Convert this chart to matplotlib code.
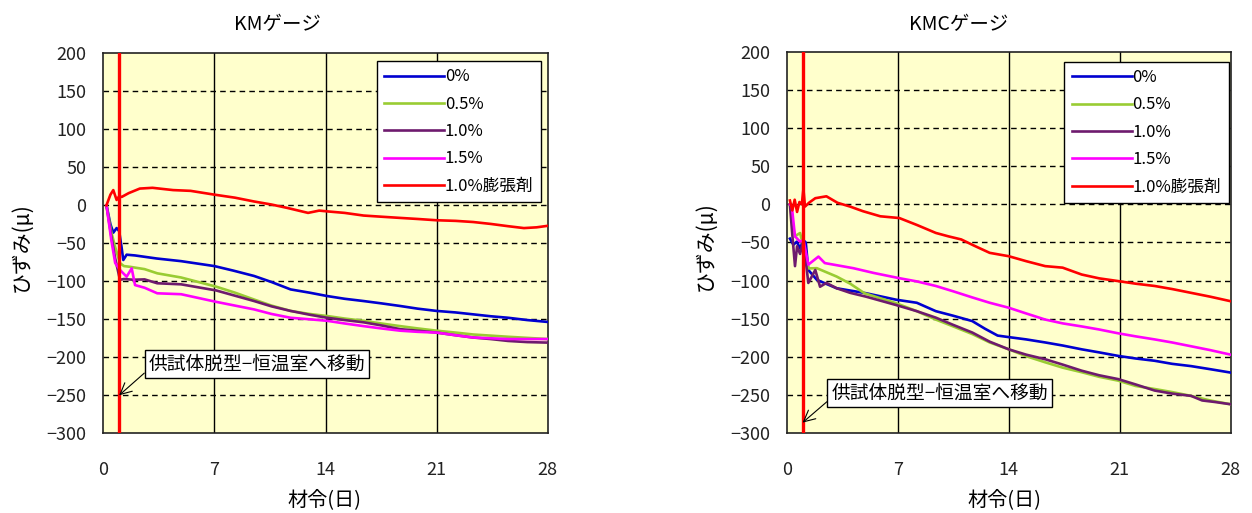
import matplotlib
matplotlib.use("Agg")
import matplotlib.pyplot as plt

plt.rcParams['font.family'] = ['Noto Sans CJK JP', 'DejaVu Sans']

# ---- KMゲージ ----
km_0_x = [0.2, 0.45, 0.63, 0.84, 1.0, 1.15, 1.26, 1.47, 2.0, 3.36, 4.9, 7.0, 8.2, 9.5, 10.6, 11.8, 13.0, 14.1,
          15.2, 16.4, 17.5, 18.7, 19.8, 21.0, 22.2, 23.3, 24.4, 25.5, 26.7, 28.0]
km_0_y = [0, -25, -36, -30, -34, -55, -72, -65, -66, -70, -73.5, -80, -86, -93, -101, -110.7, -115, -119.4,
          -123, -126, -129, -132.5, -136, -139, -141, -143.5, -146, -148, -151, -153.5]

km_05_x = [0.2, 0.5, 0.75, 1.05, 1.3, 1.7, 2.6, 3.4, 4.9, 7.1, 8.3, 9.5, 10.6, 11.8, 13.0, 14.1, 15.2, 16.4,
           17.5, 18.7, 19.8, 21.0, 22.2, 23.3, 25.5, 28.0]
km_05_y = [0, -35, -55, -76, -80, -81, -84, -89.5, -95, -107, -115, -124, -132, -139, -143, -145.7, -149, -152,
           -155.5, -159, -162, -165, -167.5, -170, -173, -176]

km_10_x = [0.2, 0.5, 0.74, 1.05, 1.3, 1.9, 2.6, 3.4, 4.9, 7.1, 8.3, 9.5, 10.6, 11.8, 13.0, 14.1, 15.2, 16.4,
           17.5, 18.7, 19.8, 21.0, 22.2, 23.3, 24.4, 25.5, 26.7, 28.0]
km_10_y = [0, -40, -69, -98, -97, -98, -97.5, -102.6, -104, -112, -119, -126, -133, -139, -144, -148, -151, -154,
           -158, -163, -165, -167.5, -171, -174, -176, -178.5, -180, -180.7]

km_15_x = [0.2, 0.5, 0.75, 1.05, 1.47, 1.79, 2.0, 2.6, 3.4, 4.9, 7.1, 8.3, 9.5, 10.6, 11.8, 13.0, 14.1, 15.2,
           16.4, 17.5, 18.7, 19.8, 21.0, 22.2, 23.3, 25.5, 28.0]
km_15_y = [0, -45, -76, -85, -94, -83, -105, -108.5, -115.8, -117, -127, -132, -137, -143, -148, -150, -152, -155.5,
           -159, -162, -165, -166.5, -167.5, -171, -174, -176, -176]

km_exp_x = [0.2, 0.45, 0.63, 0.84, 1.0, 1.16, 1.6, 2.3, 3.1, 4.4, 5.5, 7.0, 8.3, 9.5, 10.6, 11.6, 12.9, 13.6,
            14.1, 15.2, 16.4, 17.5, 18.7, 19.8, 21.0, 22.2, 23.3, 24.4, 25.5, 26.5, 27.3, 28.0]
km_exp_y = [0, 14, 20, 7, 12, 11, 16, 22, 23, 20, 19, 14, 10, 5, 1, -3.5, -10, -7,
            -8, -10, -13.5, -15, -16.6, -18, -19.7, -20.5, -22, -24.5, -27.5, -30, -29, -27]

# ---- KMCゲージ ----
kmc_0_x = [0.2, 0.42, 0.63, 0.84, 1.05, 1.2, 1.36, 1.9, 3.15, 5.0, 6.9, 8.2, 9.4, 10.5, 11.7, 12.5, 13.3, 14.0,
           15.1, 16.3, 17.4, 18.6, 19.7, 20.9, 22.0, 23.2, 24.3, 25.5, 26.7, 28.0]
kmc_0_y = [-45, -53, -49, -57.5, -47, -50, -86, -99, -110, -116.5, -125, -129, -140, -146, -153, -163, -172, -174,
           -177, -181, -185, -190, -194, -198.6, -202, -205, -209, -212, -216, -220.5]

kmc_05_x = [0.2, 0.5, 0.84, 1.05, 1.36, 1.9, 3.15, 4.0, 4.9, 6.9, 8.2, 9.4, 10.5, 11.7, 12.8, 14.0, 15.1, 16.3,
            17.4, 18.6, 19.7, 20.9, 22.0, 23.2, 24.3, 25.5, 26.7, 28.0]
kmc_05_y = [0, -42, -37.6, -55, -84, -83.7, -94.7, -104, -116.5, -129.6, -140, -151, -160, -170, -181, -190, -199, -207,
            -214, -220, -226, -231, -238, -242, -246, -251, -257, -262]

kmc_10_x = [0.2, 0.35, 0.52, 0.65, 0.84, 1.05, 1.36, 1.8, 2.1, 2.5, 3.15, 4.0, 5.0, 6.9, 8.2, 9.4, 10.5, 11.7,
            12.8, 14.0, 15.1, 16.3, 17.4, 18.6, 19.7, 20.9, 22.0, 23.2, 24.3, 25.5, 26.2, 27.0, 28.0]
kmc_10_y = [0, -40, -81, -55, -65, -47, -103, -86, -108, -103, -110, -116, -121, -132, -140, -148.5, -158, -168,
            -180, -190, -197, -203, -210, -218, -224, -229, -236, -244, -248, -251, -257, -259, -262]

kmc_15_x = [0.2, 0.32, 0.52, 0.84, 1.05, 1.36, 2.0, 2.4, 4.2, 5.5, 7.1, 8.2, 9.4, 10.5, 11.7, 12.8, 14.0, 15.1,
            16.3, 17.4, 18.6, 19.7, 20.9, 22.0, 23.2, 24.3, 25.5, 26.7, 28.0]
kmc_15_y = [0, -3, -42, -49, -46.6, -79, -68.5, -77, -83.7, -90, -96.8, -101, -107, -114, -122, -129, -135.5, -143,
            -151, -156, -160, -164, -169, -173, -177, -181, -186, -191, -197]

kmc_exp_x = [0.2, 0.35, 0.5, 0.65, 0.8, 0.95, 1.05, 1.15, 1.4, 1.8, 2.5, 3.2, 4.0, 4.8, 5.9, 7.1, 8.2, 9.4,
             10.2, 11.0, 11.9, 12.8, 14.0, 15.1, 16.3, 17.4, 18.6, 19.7, 20.9, 22.0, 23.2, 24.3, 25.5, 26.7, 28.0]
kmc_exp_y = [5, -8, 6, -10, 3, 0, 20, -3, 2, 8, 10.5, 2, -3, -9, -15.7, -18, -27, -37.5,
             -42, -46, -55, -63.6, -68, -74.5, -81, -83, -92, -97, -100.6, -104, -107, -111, -116, -121, -127]

series_labels = ['0%', '0.5%', '1.0%', '1.5%', '1.0%膨張剤']
series_colors = ['#0000D0', '#99CC33', '#6E1A6E', '#FF00FF', '#FF0000']
x_ticks = [0, 7, 14, 21, 28]
y_ticks = [-300, -250, -200, -150, -100, -50, 0, 50, 100, 150, 200]
demold_day = 1.0
note_text = '供試体脱型−恒温室へ移動'

fig = plt.figure(figsize=(12.52, 5.13), dpi=100)
fig.patch.set_facecolor('white')


def draw_panel(rect, xs, ys, title_xy, title, note_xy, note_tip, legend_anchor, xlabel_x):
    ax = fig.add_axes(rect)
    ax.set_facecolor('#FFFFCC')
    for x, y, c, lab in zip(xs, ys, series_colors, series_labels):
        ax.plot(x, y, color=c, lw=1.9, label=lab, zorder=3)
    ax.axvline(demold_day, color='#FF0000', lw=2.4, zorder=4)
    ax.set_xlim(0, 28)
    ax.set_ylim(-300, 200)
    ax.set_xticks(x_ticks)
    ax.set_yticks(y_ticks)
    ax.tick_params(length=0, labelsize=13, colors='#222222')
    ax.tick_params(axis='y', pad=12)
    ax.tick_params(axis='x', pad=20)
    for v in x_ticks[1:-1]:
        ax.axvline(v, color='black', lw=1.0, zorder=1)
    for v in y_ticks[1:-1]:
        ax.axhline(v, color='black', lw=1.0, ls=(0, (4, 3)), zorder=1)
    for s in ax.spines.values():
        s.set_color('#222222')
        s.set_linewidth(1.2)
    ax.set_xlabel('材令(日)', fontsize=14.5, va='center')
    ax.xaxis.set_label_coords(xlabel_x, -0.175)
    ax.set_ylabel('ひずみ(μ)', fontsize=15, va='center')
    ax.yaxis.set_label_coords(-0.183, 0.49)
    leg = ax.legend(loc='upper left', bbox_to_anchor=legend_anchor, fontsize=12,
                    handlelength=3.6, handletextpad=0.05, labelspacing=0.62,
                    borderpad=0.45, borderaxespad=0, fancybox=False, framealpha=1,
                    edgecolor='black')
    leg.get_frame().set_linewidth(1.0)
    leg.set_zorder(6)
    ax.annotate(note_text, xy=note_tip, xytext=note_xy, textcoords='data',
                fontsize=13.5, ha='left', va='center', zorder=7,
                bbox=dict(boxstyle='square,pad=0.2', fc='white', ec='black', lw=1.0),
                arrowprops=dict(arrowstyle='->,head_length=0.6,head_width=0.3', color='black',
                                lw=0.8, relpos=(0, 0.25), shrinkA=0, shrinkB=0))
    fig.text(title_xy[0], title_xy[1], title, fontsize=14, ha='center', va='center')
    return ax


draw_panel([0.0825, 0.1554, 0.355, 0.7407],
           [km_0_x, km_05_x, km_10_x, km_15_x, km_exp_x],
           [km_0_y, km_05_y, km_10_y, km_15_y, km_exp_y],
           (0.2218, 0.953), 'KMゲージ', (2.85, -209), (demold_day, -250), (0.615, 0.98), 0.497)

draw_panel([0.6284, 0.1554, 0.3546, 0.7439],
           [kmc_0_x, kmc_05_x, kmc_10_x, kmc_15_x, kmc_exp_x],
           [kmc_0_y, kmc_05_y, kmc_10_y, kmc_15_y, kmc_exp_y],
           (0.766, 0.953), 'KMCゲージ', (2.8, -247), (demold_day, -286), (0.625, 0.974), 0.49)

fig.savefig('out.png', dpi=100)
